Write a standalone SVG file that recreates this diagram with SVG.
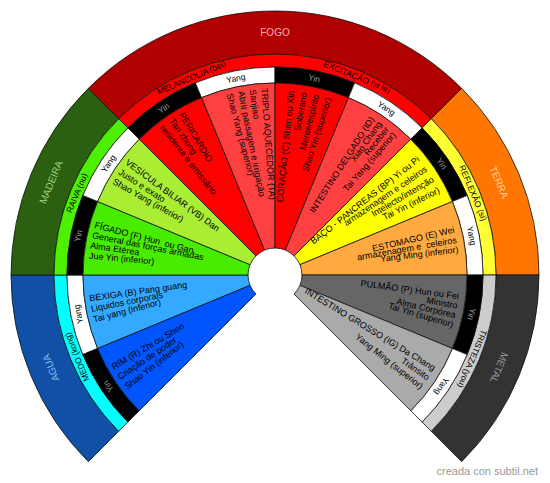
<svg xmlns="http://www.w3.org/2000/svg" width="550" height="483" viewBox="0 0 550 483">
<style>
path{stroke:#111;stroke-width:0.8}
text{font-family:"Liberation Sans",Arial,sans-serif}
.o{font-size:9px;fill:#000}
.r{text-anchor:end}
.el{font-size:10px;text-anchor:middle}
.em{font-size:8.5px;text-anchor:middle;fill:#000}
.yy{font-size:8.5px;text-anchor:middle}
.yin{fill:#000}.yint{fill:#999}
.yang{fill:#fff}.yangt{fill:#000}
</style>
<rect width="550" height="483" fill="#fff" stroke="none"/>

<!-- Elements -->
<g id="fogo">
<path fill="#b00000" d="M461.68 88.32A264 264 0 0 0 88.32 88.32L118.73 118.73A221 221 0 0 1 431.27 118.73Z"/>
<path fill="#ff0000" d="M431.27 118.73A221 221 0 0 0 118.73 118.73L127.92 127.92A208 208 0 0 1 422.08 127.92Z"/>
<text class="el" fill="#ffaaaa" x="275" y="36">FOGO</text>
<text class="em" x="275" y="63.5" transform="rotate(-23 275 275)">MELANCOLIA (bei)</text>
<text class="em" x="275" y="63.5" transform="rotate(22.5 275 275)">EXCITAÇÃO (xi le)</text>
</g>
<g id="terra">
<path fill="#ff7700" d="M539 275A264 264 0 0 0 461.68 88.32L431.27 118.73A221 221 0 0 1 496 275Z"/>
<path fill="#ffff33" d="M496 275A221 221 0 0 0 431.27 118.73L422.08 127.92A208 208 0 0 1 483 275Z"/>
<text class="el" fill="#ffd2a6" x="275" y="36" transform="rotate(67.5 275 275)">TERRA</text>
<text class="em" x="275" y="63.5" transform="rotate(67.5 275 275)">REFLEXÃO (si)</text>
</g>
<g id="metal">
<path fill="#333333" d="M461.68 461.68A264 264 0 0 0 539 275L496 275A221 221 0 0 1 431.27 431.27Z"/>
<path fill="#cccccc" d="M431.27 431.27A221 221 0 0 0 496 275L483 275A208 208 0 0 1 422.08 422.08Z"/>
<text class="el" fill="#9a9a9a" x="275" y="36" transform="rotate(112.5 275 275)">METAL</text>
<text class="em" x="275" y="63.5" transform="rotate(113 275 275)">TRISTEZA (you)</text>
</g>
<g id="agua">
<path fill="#1050a6" d="M11 275A264 264 0 0 0 88.32 461.68L118.73 431.27A221 221 0 0 1 54 275Z"/>
<path fill="#00ffff" d="M54 275A221 221 0 0 0 118.73 431.27L127.92 422.08A208 208 0 0 1 67 275Z"/>
<text class="el" fill="#88bbff" x="275" y="36" transform="rotate(-112.5 275 275)">AGUA</text>
<text class="em" x="275" y="63.5" transform="rotate(-112.5 275 275)">MEDO (kong)</text>
</g>
<g id="madeira">
<path fill="#2b6011" d="M88.32 88.32A264 264 0 0 0 11 275L54 275A221 221 0 0 1 118.73 118.73Z"/>
<path fill="#4cf000" d="M118.73 118.73A221 221 0 0 0 54 275L67 275A208 208 0 0 1 127.92 127.92Z"/>
<text class="el" fill="#a0d080" x="275" y="36" transform="rotate(-67.5 275 275)">MADEIRA</text>
<text class="em" x="275" y="63.5" transform="rotate(-67.5 275 275)">RAIVA (nu)</text>
</g>

<!-- Organs -->
<g id="pericardio">
<path class="yin" d="M195.40 82.83A208 208 0 0 0 127.92 127.92L139.23 139.23A192 192 0 0 1 201.53 97.62Z"/>
<path fill="#ff0000" d="M201.53 97.62A192 192 0 0 0 139.23 139.23L255.91 255.91A27 27 0 0 1 264.67 250.06Z"/>
<text class="yy yint" x="275" y="77.5" transform="rotate(-33.75 275 275)">Yin</text>
<text class="o" x="88" y="275" transform="rotate(59 275 275)">PERICARDIO</text>
<text class="o" x="88" y="275" transform="rotate(55.4 275 275)">Tan zhong</text>
<text class="o" x="88" y="275" transform="rotate(51.8 275 275)">residente e emissário</text>
</g>
<g id="triplo-aquecedor">
<path class="yang" d="M275 67A208 208 0 0 0 195.40 82.83L201.53 97.62A192 192 0 0 1 275 83Z"/>
<path fill="#ff4040" d="M275 83A192 192 0 0 0 201.53 97.62L264.67 250.06A27 27 0 0 1 275 248Z"/>
<text class="yy yangt" x="275" y="77.5" transform="rotate(-11.25 275 275)">Yang</text>
<text class="o" x="88" y="275" transform="rotate(85.8 275 275)">TRIPLO AQUECEDOR (TA)</text>
<text class="o" x="88" y="275" transform="rotate(82.2 275 275)">Sanjiao</text>
<text class="o" x="88" y="275" transform="rotate(78.6 275 275)">Abrir passagem e irrigação</text>
<text class="o" x="88" y="275" transform="rotate(75 275 275)">Shao Yang (superior)</text>
</g>
<g id="coracao">
<path class="yin" d="M354.60 82.83A208 208 0 0 0 275 67L275 83A192 192 0 0 1 348.47 97.62Z"/>
<path fill="#ff0000" d="M348.47 97.62A192 192 0 0 0 275 83L275 248A27 27 0 0 1 285.33 250.06Z"/>
<text class="yy yint" x="275" y="77.5" transform="rotate(11.25 275 275)">Yin</text>
<text class="o r" x="460" y="275" transform="rotate(-84 275 275)">CORAÇÃO (C) Shen ou Xin</text>
<text class="o r" x="460" y="275" transform="rotate(-80.1 275 275)">Soberano</text>
<text class="o r" x="460" y="275" transform="rotate(-76.2 275 275)">Mente/espírito</text>
<text class="o r" x="460" y="275" transform="rotate(-72.3 275 275)">Shao Yin (superior)</text>
</g>
<g id="intestino-delgado">
<path class="yang" d="M422.08 127.92A208 208 0 0 0 354.60 82.83L348.47 97.62A192 192 0 0 1 410.77 139.23Z"/>
<path fill="#ff4040" d="M410.77 139.23A192 192 0 0 0 348.47 97.62L285.33 250.06A27 27 0 0 1 294.09 255.91Z"/>
<text class="yy yangt" x="275" y="77.5" transform="rotate(33.75 275 275)">Yang</text>
<text class="o r" x="460" y="275" transform="rotate(-57.4 275 275)">INTESTINO DELGADO (ID)</text>
<text class="o r" x="460" y="275" transform="rotate(-54.6 275 275)">Xiao Chang</text>
<text class="o r" x="460" y="275" transform="rotate(-51.8 275 275)">Receber</text>
<text class="o r" x="460" y="275" transform="rotate(-49 275 275)">Tai Yang (superior)</text>
</g>
<g id="baco">
<path class="yin" d="M467.17 195.40A208 208 0 0 0 422.08 127.92L410.77 139.23A192 192 0 0 1 452.38 201.53Z"/>
<path fill="#ffff00" d="M452.38 201.53A192 192 0 0 0 410.77 139.23L294.09 255.91A27 27 0 0 1 299.94 264.67Z"/>
<text class="yy yint" x="275" y="77.5" transform="rotate(56.25 275 275)">Yin</text>
<text class="o r" x="460" y="275" transform="rotate(-38.2 275 275)">BAÇO - PANCREAS (BP) Yi ou Pi</text>
<text class="o r" x="460" y="275" transform="rotate(-34.3 275 275)">armazenagem e celeiros</text>
<text class="o r" x="460" y="275" transform="rotate(-30.4 275 275)">Intelecto/intenção</text>
<text class="o r" x="460" y="275" transform="rotate(-26.5 275 275)">Tai Yin (inferior)</text>
</g>
<g id="estomago">
<path class="yang" d="M483 275A208 208 0 0 0 467.17 195.40L452.38 201.53A192 192 0 0 1 467 275Z"/>
<path fill="#ffaa40" d="M467 275A192 192 0 0 0 452.38 201.53L299.94 264.67A27 27 0 0 1 302 275Z"/>
<text class="yy yangt" x="275" y="77.5" transform="rotate(78.75 275 275)">Yang</text>
<text class="o r" x="460" y="275" transform="rotate(-13.3 275 275)">ESTOMAGO (E) Wei</text>
<text class="o r" x="460" y="275" transform="rotate(-10 275 275)" xml:space="preserve">armazenagem e  celeiros</text>
<text class="o r" x="460" y="275" transform="rotate(-7 275 275)">Yang Ming (inferior)</text>
</g>
<g id="pulmao">
<path class="yin" d="M467.17 354.60A208 208 0 0 0 483 275L467 275A192 192 0 0 1 452.38 348.47Z"/>
<path fill="#666666" d="M452.38 348.47A192 192 0 0 0 467 275L302 275A27 27 0 0 1 299.94 285.33Z"/>
<text class="yy yint" x="275" y="77.5" transform="rotate(101.25 275 275)">Yin</text>
<text class="o r" x="460" y="275" transform="rotate(7.5 275 275)">PULMÃO (P) Hun ou Fei</text>
<text class="o r" x="460" y="275" transform="rotate(10.5 275 275)">Ministro</text>
<text class="o r" x="460" y="275" transform="rotate(13.5 275 275)">Alma Corpórea</text>
<text class="o r" x="460" y="275" transform="rotate(16.5 275 275)">Tai Yin (superior)</text>
</g>
<g id="intestino-grosso">
<path class="yang" d="M422.08 422.08A208 208 0 0 0 467.17 354.60L452.38 348.47A192 192 0 0 1 410.77 410.77Z"/>
<path fill="#aaaaaa" d="M410.77 410.77A192 192 0 0 0 452.38 348.47L299.94 285.33A27 27 0 0 1 294.09 294.09Z"/>
<text class="yy yangt" x="275" y="77.5" transform="rotate(123.75 275 275)">Yang</text>
<text class="o r" x="460" y="275" transform="rotate(31.3 275 275)">INTESTINO GROSSO (IG) Da Chang</text>
<text class="o r" x="460" y="275" transform="rotate(34.8 275 275)">Trânsito</text>
<text class="o r" x="460" y="275" transform="rotate(38.3 275 275)">Yang Ming (superior)</text>
</g>
<g id="bexiga">
<path class="yang" d="M67 275A208 208 0 0 0 82.83 354.60L97.62 348.47A192 192 0 0 1 83 275Z"/>
<path fill="#33aaff" d="M83 275A192 192 0 0 0 97.62 348.47L250.06 285.33A27 27 0 0 1 248 275Z"/>
<text class="yy yangt" x="275" y="77.5" transform="rotate(-101.25 275 275)">Yang</text>
<text class="o" x="88" y="275" transform="rotate(-8.1 275 275)">BEXIGA (B) Pang guang</text>
<text class="o" x="88" y="275" transform="rotate(-11.4 275 275)">Liquidos corporais</text>
<text class="o" x="88" y="275" transform="rotate(-14.7 275 275)">Tai yang (inferior)</text>
</g>
<g id="rim">
<path class="yin" d="M82.83 354.60A208 208 0 0 0 127.92 422.08L139.23 410.77A192 192 0 0 1 97.62 348.47Z"/>
<path fill="#0055ff" d="M97.62 348.47A192 192 0 0 0 139.23 410.77L255.91 294.09A27 27 0 0 1 250.06 285.33Z"/>
<text class="yy yint" x="275" y="77.5" transform="rotate(-123.75 275 275)">Yin</text>
<text class="o" x="88" y="275" transform="rotate(-30.5 275 275)">RIM (R) Zhi ou Shen</text>
<text class="o" x="88" y="275" transform="rotate(-34.2 275 275)">Criação de poder</text>
<text class="o" x="88" y="275" transform="rotate(-37.9 275 275)">Shao Yin (inferior)</text>
</g>
<g id="figado">
<path class="yin" d="M82.83 195.40A208 208 0 0 0 67 275L83 275A192 192 0 0 1 97.62 201.53Z"/>
<path fill="#48ec00" d="M97.62 201.53A192 192 0 0 0 83 275L248 275A27 27 0 0 1 250.06 264.67Z"/>
<text class="yy yint" x="275" y="77.5" transform="rotate(-78.75 275 275)">Yin</text>
<text class="o" x="88" y="275" transform="rotate(14.6 275 275)" xml:space="preserve">FÍGADO (F) Hun  ou Gan</text>
<text class="o" x="88" y="275" transform="rotate(11.4 275 275)">General das forças armadas</text>
<text class="o" x="88" y="275" transform="rotate(8.2 275 275)">Alma Etérea</text>
<text class="o" x="88" y="275" transform="rotate(5 275 275)">Jue Yin (inferior)</text>
</g>
<g id="vesicula-biliar">
<path class="yang" d="M127.92 127.92A208 208 0 0 0 82.83 195.40L97.62 201.53A192 192 0 0 1 139.23 139.23Z"/>
<path fill="#aaee33" d="M139.23 139.23A192 192 0 0 0 97.62 201.53L250.06 264.67A27 27 0 0 1 255.91 255.91Z"/>
<text class="yy yangt" x="275" y="77.5" transform="rotate(-56.25 275 275)">Yang</text>
<text class="o" x="88" y="275" transform="rotate(36.5 275 275)">VESÍCULA BILIAR (VB) Dan</text>
<text class="o" x="88" y="275" transform="rotate(32.8 275 275)">Justo e exato</text>
<text class="o" x="88" y="275" transform="rotate(29.3 275 275)">Shao Yang (inferior)</text>
</g>

<text x="538" y="475" text-anchor="end" font-size="11" fill="#999">creada con subtil.net</text>
</svg>
